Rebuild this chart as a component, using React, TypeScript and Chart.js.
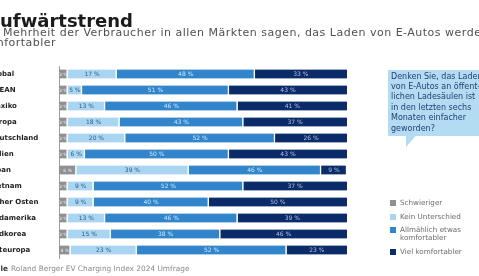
import React, { useEffect, useRef } from "react";
import { Chart, registerables } from "chart.js";

Chart.register(...registerables);

// ---- data ----
const categories = [
  "Global",
  "ASEAN",
  "Mexiko",
  "Europa",
  "Deutschland",
  "Indien",
  "Japan",
  "Vietnam",
  "Naher Osten",
  "Südamerika",
  "Südkorea",
  "Osteuropa",
];
const schwieriger = [3, 3, 3, 3, 3, 3, 6, 3, 3, 3, 3, 4];
const keinUnterschied = [17, 5, 13, 18, 20, 6, 39, 9, 9, 13, 15, 23];
const allmaehlich = [48, 51, 46, 43, 52, 50, 46, 52, 40, 46, 38, 52];
const vielKomfortabler = [33, 43, 41, 37, 26, 43, 9, 37, 50, 39, 46, 23];
const seriesLabels = ["Schwieriger", "Kein Unterschied", "Allmählich etwas komfortabler", "Viel komfortabler"];
const legendLines = [["Schwieriger"], ["Kein Unterschied"], ["Allmählich etwas", "komfortabler"], ["Viel komfortabler"]];
const titleText = "Aufwärtstrend";
const subtitleLines = [
  "Die Mehrheit der Verbraucher in allen Märkten sagen, das Laden von E-Autos werde immer",
  "komfortabler",
];
const calloutLines = [
  "Denken Sie, das Laden",
  "von E-Autos an öffent-",
  "lichen Ladesäulen ist",
  "in den letzten sechs",
  "Monaten einfacher",
  "geworden?",
];
const sourceBold = "Quelle";
const sourceText = "Roland Berger EV Charging Index 2024 Umfrage";

// ---- style ----
const O = 11; // canvas is shifted left by this amount (page crop)
const W = 520;
const H = 276;
const FONT = "'DejaVu Sans', sans-serif";
const colors = ["#8f9096", "#a9d5f0", "#3186cb", "#0c2b69"];
const labelColors = ["#f0f0f0", "#2d5b93", "#cfe4f6", "#aac0e2"];

const overlay = {
  id: "overlay",
  afterDatasetsDraw(chart: any) {
    const ctx = chart.ctx;
    const area = chart.chartArea;
    chart.data.datasets.forEach((ds: any, di: number) => {
      const meta = chart.getDatasetMeta(di);
      meta.data.forEach((el: any, i: number) => {
        const { x, base, y } = el.getProps(["x", "base", "y"], true);
        const l = Math.min(x, base);
        const r = Math.min(Math.max(x, base), area.right);
        const cx = (l + r) / 2;
        ctx.save();
        ctx.font = `${di === 0 ? 4.5 : 6}px ${FONT}`;
        ctx.fillStyle = labelColors[di];
        ctx.textAlign = "center";
        ctx.textBaseline = "middle";
        ctx.fillText(`${ds.data[i]} %`, cx, y + 0.5);
        ctx.restore();
      });
    });
  },
  afterDraw(chart: any) {
    const ctx = chart.ctx;
    ctx.save();
    // title
    ctx.font = `bold 18px ${FONT}`;
    ctx.fillStyle = "#1b1b1b";
    ctx.textBaseline = "alphabetic";
    ctx.textAlign = "left";
    const tx = O - ctx.measureText("A").width;
    ctx.fillText(titleText, tx, 27);
    // subtitle
    ctx.font = `11px ${FONT}`;
    (ctx as any).letterSpacing = "0.5px";
    ctx.fillStyle = "#505050";
    const sx = O + 3 - ctx.measureText("Die ").width;
    ctx.fillText(subtitleLines[0], sx, 36);
    ctx.fillText(subtitleLines[1], sx, 45.5);
    (ctx as any).letterSpacing = "0px";

    // callout
    const bx = O + 388;
    ctx.fillStyle = "#b3dbf2";
    ctx.fillRect(bx, 70, W - bx, 66);
    ctx.beginPath();
    ctx.moveTo(O + 406, 135.5);
    ctx.lineTo(O + 416, 135.5);
    ctx.lineTo(O + 406, 147);
    ctx.closePath();
    ctx.fill();
    ctx.font = `8px ${FONT}`;
    ctx.fillStyle = "#1f3f72";
    ctx.textBaseline = "middle";
    calloutLines.forEach((line, i) => {
      ctx.fillText(line, O + 391, 76.5 + i * 10.4);
    });

    // legend
    const ys = [203, 217, 230, 252];
    ctx.font = `7.2px ${FONT}`;
    chart.data.datasets.forEach((ds: any, di: number) => {
      ctx.fillStyle = ds.backgroundColor;
      ctx.fillRect(O + 390, ys[di] - 3, 6, 6);
      ctx.fillStyle = "#6b6b6b";
      legendLines[di].forEach((t, k) => {
        ctx.fillText(t, O + 400, ys[di] + k * 8.2);
      });
    });

    // source
    ctx.textBaseline = "alphabetic";
    ctx.font = `bold 7.4px ${FONT}`;
    ctx.fillStyle = "#333";
    const qw = ctx.measureText(sourceBold).width;
    const qx = O + 8 - qw;
    ctx.fillText(sourceBold, qx, 271);
    ctx.font = `7.4px ${FONT}`;
    ctx.fillStyle = "#8a8a8a";
    ctx.fillText(sourceText, qx + qw + 3, 271);
    ctx.restore();
  },
};

export default function App() {
  const ref = useRef<HTMLCanvasElement | null>(null);
  useEffect(() => {
    if (!ref.current) return;
    const data = [schwieriger, keinUnterschied, allmaehlich, vielKomfortabler];
    const chart = new Chart(ref.current, {
      type: "bar",
      data: {
        labels: categories,
        datasets: data.map((d, i) => ({
          label: seriesLabels[i],
          data: d,
          backgroundColor: colors[i],
          borderColor: "#ffffff",
          borderWidth: { top: 0, left: 0, bottom: 0, right: 1.5 },
          borderSkipped: false,
          barThickness: 9,
          clip: 0,
        })),
      },
      options: {
        indexAxis: "y",
        responsive: false,
        animation: false,
        devicePixelRatio: 1,
        layout: { padding: { left: 0, right: W - (O + 347), top: 66, bottom: 18 } },
        plugins: {
          legend: { display: false },
          title: { display: false },
          tooltip: { enabled: false },
        },
        scales: {
          x: {
            stacked: true,
            display: false,
            min: 0,
            max: 100,
          },
          y: {
            stacked: true,
            afterFit: (scale: any) => {
              scale.width = O + 59;
            },
            grid: { display: false, drawTicks: false },
            border: { display: true, color: "#a0a0a0", width: 1 },
            ticks: {
              crossAlign: "far",
              color: "#1e1e1e",
              font: { family: "'DejaVu Sans', sans-serif", size: 7, weight: "bold" },
            },
          },
        },
      },
      plugins: [overlay],
    } as any);
    return () => chart.destroy();
  }, []);

  return (
    <div
      style={{
        position: "fixed",
        left: 0,
        top: 0,
        width: 479,
        height: 276,
        overflow: "hidden",
        background: "#ffffff",
      }}
    >
      <canvas
        ref={ref}
        width={W}
        height={H}
        style={{ position: "absolute", left: -O, top: 0, width: W, height: H }}
      />
    </div>
  );
}
